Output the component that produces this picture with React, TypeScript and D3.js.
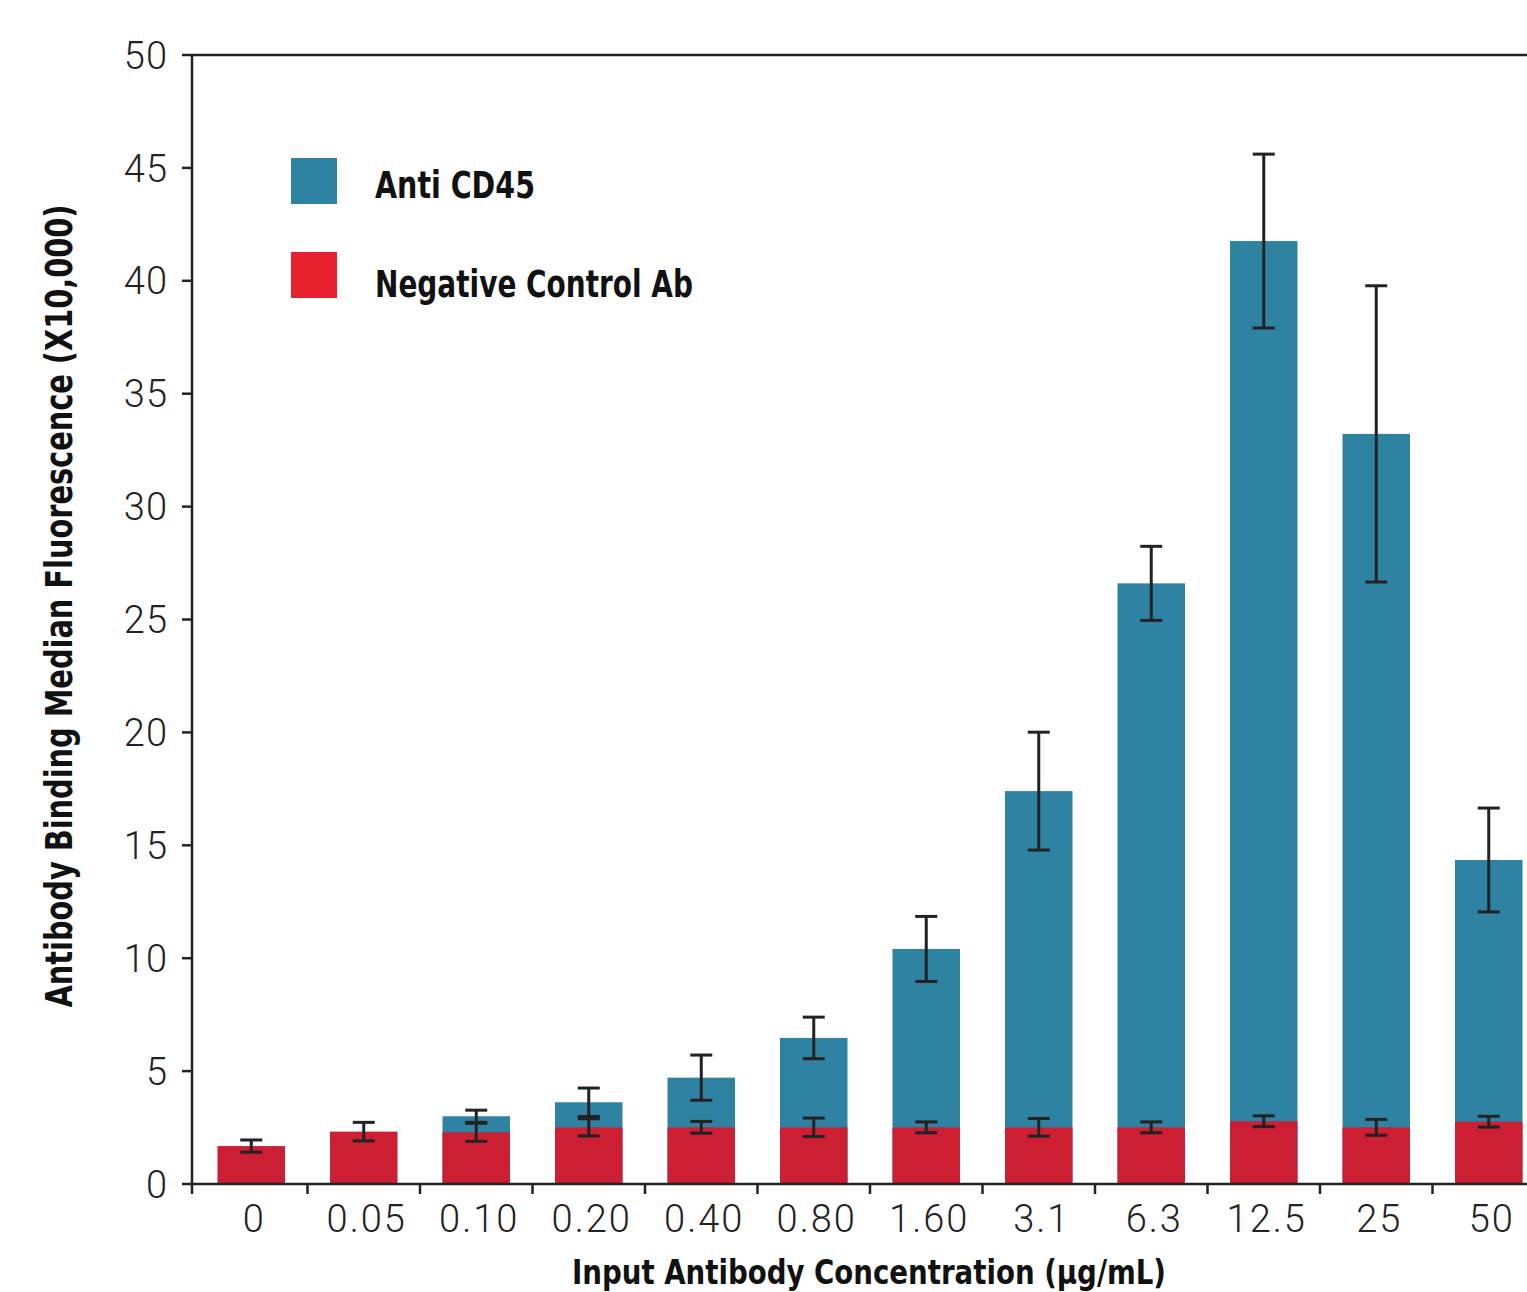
import React from "react";
import * as d3 from "d3";

const categories = ["0", "0.05", "0.10", "0.20", "0.40", "0.80", "1.60", "3.1", "6.3", "12.5", "25", "50"];
const antiCD45: (number | null)[] = [null, null, 3.0, 3.62, 4.71, 6.47, 10.41, 17.4, 26.6, 41.76, 33.22, 14.35];
const antiCD45Err: (number | null)[] = [null, null, 0.27, 0.63, 1.0, 0.92, 1.44, 2.61, 1.64, 3.85, 6.56, 2.3];
const negCtrl = [1.68, 2.32, 2.29, 2.51, 2.51, 2.51, 2.51, 2.51, 2.51, 2.78, 2.51, 2.76];
const negCtrlErr = [0.27, 0.41, 0.4, 0.38, 0.26, 0.41, 0.24, 0.39, 0.24, 0.24, 0.35, 0.24];
const yTicks = [0, 5, 10, 15, 20, 25, 30, 35, 40, 45, 50];
const legendLabels = ["Anti CD45", "Negative Control Ab"];
const xTitle = "Input Antibody Concentration (µg/mL)";
const yTitle = "Antibody Binding Median Fluorescence (X10,000)";

const BLUE = "#2f83a2";
const RED = "#cc1f33";
const RED_LEGEND = "#e8212f";
const INK = "#222";

const W = 1527;
const H = 1292;
const left = 192;
const right = 1545;
const top = 55;
const bottom = 1184;

const numFont = "Roboto, 'Liberation Sans', sans-serif";
const boldFont = "'Liberation Sans Narrow', 'DejaVu Sans Condensed', 'Roboto Condensed', sans-serif";

export default function App() {
  const x = d3.scaleBand<string>().domain(categories).range([195, 195 + 112.5 * 12]).paddingInner(0.4).paddingOuter(0.2);
  const y = d3.scaleLinear().domain([0, 50]).range([bottom, top]);
  const bw = x.bandwidth();
  const step = x.step();
  const capW = 22;

  const errBar = (cx: number, v: number, e: number, key: string) => (
    <g key={key} stroke={INK} strokeWidth={3}>
      <line x1={cx} x2={cx} y1={y(v + e)} y2={y(v - e)} />
      <line x1={cx - capW / 2} x2={cx + capW / 2} y1={y(v + e)} y2={y(v + e)} />
      <line x1={cx - capW / 2} x2={cx + capW / 2} y1={y(v - e)} y2={y(v - e)} />
    </g>
  );

  // tick positions between bands
  const xTickPos = categories.map((c) => (x(c) as number) + bw / 2 + step / 2).slice(0, -1);

  return (
    <svg width={W} height={H} style={{ position: "absolute", left: 0, top: 0, background: "#fff" }}>
      {/* blue bars */}
      {categories.map((c, i) =>
        antiCD45[i] == null ? null : (
          <rect key={"b" + c} x={x(c)} width={bw} y={y(antiCD45[i] as number)} height={bottom - y(antiCD45[i] as number)} fill={BLUE} />
        )
      )}
      {/* red bars */}
      {categories.map((c, i) => (
        <rect key={"r" + c} x={x(c)} width={bw} y={y(negCtrl[i])} height={bottom - y(negCtrl[i])} fill={RED} />
      ))}
      {/* error bars */}
      {categories.map((c, i) =>
        antiCD45[i] == null ? null : errBar((x(c) as number) + bw / 2, antiCD45[i] as number, antiCD45Err[i] as number, "eb" + c)
      )}
      {categories.map((c, i) => errBar((x(c) as number) + bw / 2, negCtrl[i], negCtrlErr[i], "er" + c))}

      {/* frame */}
      <g stroke={INK} strokeWidth={2.5} fill="none">
        <line x1={left} x2={right} y1={top} y2={top} />
        <line x1={left} x2={right} y1={bottom} y2={bottom} />
        <line x1={left} x2={left} y1={top} y2={bottom + 10} />
        {yTicks.map((t) => (
          <line key={"yt" + t} x1={left - 10} x2={left} y1={y(t)} y2={y(t)} />
        ))}
        {xTickPos.map((p, i) => (
          <line key={"xt" + i} x1={p} x2={p} y1={bottom} y2={bottom + 10} />
        ))}
      </g>

      {/* y tick labels */}
      {yTicks.map((t) => (
        <text key={"yl" + t} x={168} y={y(t)} dy="0.36em" textAnchor="end" fontFamily={numFont} fontWeight={300} fontSize={38} fill={INK} letterSpacing={1}>
          {t}
        </text>
      ))}
      {/* x tick labels */}
      {categories.map((c) => (
        <text key={"xl" + c} x={(x(c) as number) + bw / 2 + 3} y={1232} textAnchor="middle" fontFamily={numFont} fontWeight={300} fontSize={38} fill={INK} letterSpacing={2}>
          {c}
        </text>
      ))}

      {/* axis titles */}
      <text x={869} y={1284} textAnchor="middle" fontFamily={boldFont} fontWeight="bold" fontSize={34} fill="#111" textLength={594} lengthAdjust="spacingAndGlyphs">
        {xTitle}
      </text>
      <text transform="translate(72,606) rotate(-90)" x={0} y={0} textAnchor="middle" fontFamily={boldFont} fontWeight="bold" fontSize={37} fill="#111" textLength={803} lengthAdjust="spacingAndGlyphs">
        {yTitle}
      </text>

      {/* legend */}
      <rect x={291} y={158} width={46} height={46} fill={BLUE} />
      <rect x={291} y={252} width={46} height={46} fill={RED_LEGEND} />
      <text x={375} y={198} fontFamily={boldFont} fontWeight="bold" fontSize={37} fill="#111" textLength={160} lengthAdjust="spacingAndGlyphs">
        {legendLabels[0]}
      </text>
      <text x={375} y={297} fontFamily={boldFont} fontWeight="bold" fontSize={37} fill="#111" textLength={318} lengthAdjust="spacingAndGlyphs">
        {legendLabels[1]}
      </text>
    </svg>
  );
}
